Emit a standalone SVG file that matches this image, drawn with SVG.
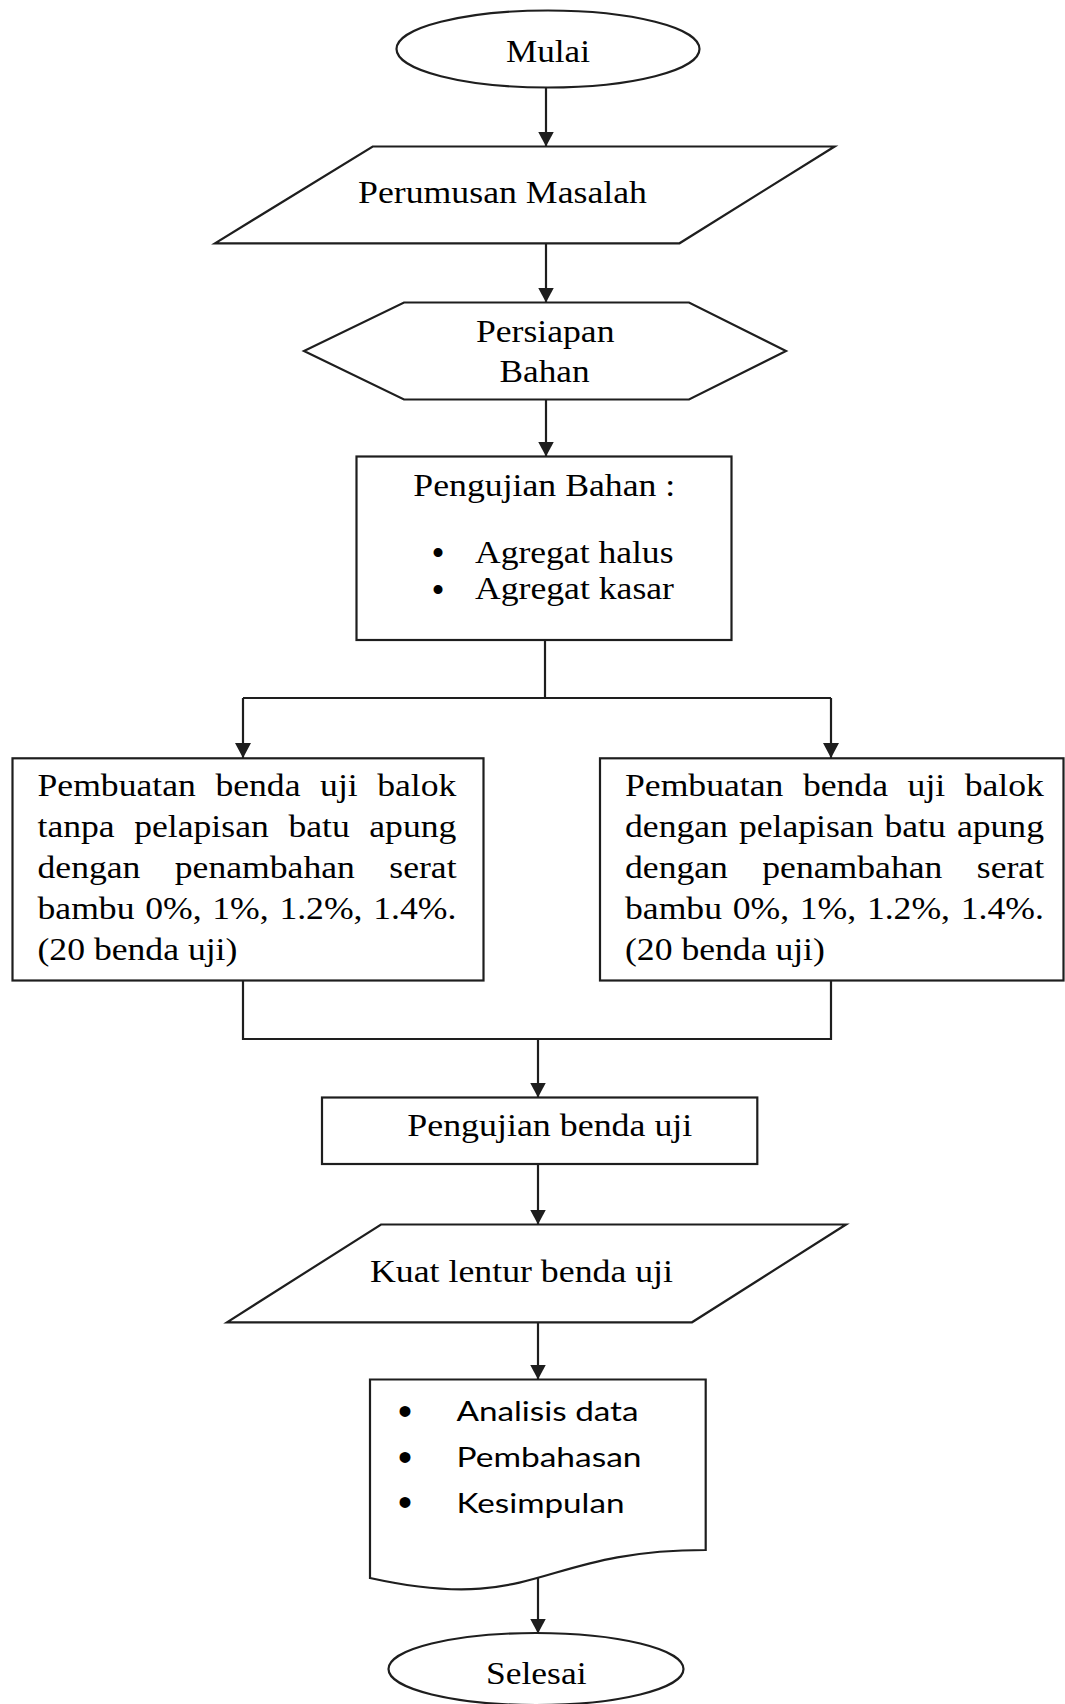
<svg xmlns="http://www.w3.org/2000/svg" width="1065" height="1704" viewBox="0 0 1065 1704">
<style>
.shape{fill:#fff;stroke:#1e1e1e;stroke-width:2.2}
.conn{fill:none;stroke:#1e1e1e;stroke-width:2.2}
.t{font-family:"Liberation Serif","Times New Roman",serif;font-size:31px;fill:#000}
.s{font-family:Lato,"Liberation Sans",sans-serif;font-size:26px;fill:#000}
.bs{font-family:"Liberation Sans",sans-serif;font-size:40px;fill:#000;text-anchor:middle}
.bb{font-family:"Liberation Sans",sans-serif;font-size:33px;fill:#000;text-anchor:middle}
</style>
<defs>
<marker id="arr" markerUnits="userSpaceOnUse" markerWidth="15" markerHeight="16" refX="15" refY="8" orient="auto">
<path d="M0,0 L15,8 L0,16 Z" fill="#1e1e1e"/>
</marker>
</defs>
<rect width="1065" height="1704" fill="#fff"/>

<g id="connectors">
<line class="conn" x1="546" y1="88" x2="546" y2="146.5" marker-end="url(#arr)"/>
<line class="conn" x1="546" y1="243.5" x2="546" y2="302.5" marker-end="url(#arr)"/>
<line class="conn" x1="546" y1="399.5" x2="546" y2="456.5" marker-end="url(#arr)"/>
<polyline class="conn" points="545,640 545,698"/>
<line class="conn" x1="243" y1="698" x2="831" y2="698"/>
<line class="conn" x1="243" y1="698" x2="243" y2="758" marker-end="url(#arr)"/>
<line class="conn" x1="831" y1="698" x2="831" y2="758" marker-end="url(#arr)"/>
<polyline class="conn" points="243,980.5 243,1039 831,1039 831,980.5"/>
<line class="conn" x1="538" y1="1039" x2="538" y2="1097.5" marker-end="url(#arr)"/>
<line class="conn" x1="538" y1="1164" x2="538" y2="1224.5" marker-end="url(#arr)"/>
<line class="conn" x1="538" y1="1322.5" x2="538" y2="1379.5" marker-end="url(#arr)"/>
<line class="conn" x1="538" y1="1577" x2="538" y2="1633.5" marker-end="url(#arr)"/>
</g>

<g id="mulai">
<ellipse class="shape" cx="548" cy="49" rx="151.5" ry="38.5"/>
<text class="t" x="506" y="61.5" textLength="84" lengthAdjust="spacingAndGlyphs">Mulai</text>
</g>

<g id="perumusan">
<polygon class="shape" points="372.7,146.5 834.6,146.5 679.5,243.3 215,243.3"/>
<text class="t" x="358" y="203" textLength="289" lengthAdjust="spacingAndGlyphs">Perumusan Masalah</text>
</g>

<g id="persiapan">
<polygon class="shape" points="404,302.5 689,302.5 786,351 689,399.5 404,399.5 304,351"/>
<text class="t" x="476" y="341.5" textLength="138.5" lengthAdjust="spacingAndGlyphs">Persiapan</text>
<text class="t" x="499.5" y="381.5" textLength="90" lengthAdjust="spacingAndGlyphs">Bahan</text>
</g>

<g id="pengujian-bahan">
<rect class="shape" x="356.5" y="456.5" width="375" height="183.5"/>
<text class="t" x="413.3" y="496" textLength="262" lengthAdjust="spacingAndGlyphs">Pengujian Bahan :</text>
<text class="bb" x="438" y="564">•</text>
<text class="t" x="475" y="562.5" textLength="198.5" lengthAdjust="spacingAndGlyphs">Agregat halus</text>
<text class="bb" x="438" y="601.3">•</text>
<text class="t" x="475" y="599" textLength="199" lengthAdjust="spacingAndGlyphs">Agregat kasar</text>
</g>

<g id="benda-tanpa">
<rect class="shape" x="12.5" y="758.3" width="471" height="222.2"/>
<g transform="scale(1.15 1)">
<text class="t" y="796"><tspan x="32.61">Pembuatan</tspan><tspan x="187.30">benda</tspan><tspan x="278.35">uji</tspan><tspan x="328.00">balok</tspan></text>
<text class="t" y="837"><tspan x="32.61">tanpa</tspan><tspan x="116.70">pelapisan</tspan><tspan x="250.78">batu</tspan><tspan x="321.13">apung</tspan></text>
<text class="t" y="878"><tspan x="32.61">dengan</tspan><tspan x="152.00">penambahan</tspan><tspan x="338.52">serat</tspan></text>
<text class="t" y="919"><tspan x="32.61">bambu</tspan><tspan x="126.26">0%,</tspan><tspan x="184.61">1%,</tspan><tspan x="242.96">1.2%,</tspan><tspan x="324.61">1.4%.</tspan></text>
<text class="t" x="32.61" y="960">(20 benda uji)</text>
</g>
</g>

<g id="benda-dengan">
<rect class="shape" x="600" y="758.3" width="463.5" height="222.2"/>
<g transform="scale(1.15 1)">
<text class="t" y="796"><tspan x="543.48">Pembuatan</tspan><tspan x="698.17">benda</tspan><tspan x="789.22">uji</tspan><tspan x="838.87">balok</tspan></text>
<text class="t" y="837"><tspan x="543.48">dengan</tspan><tspan x="642.52">pelapisan</tspan><tspan x="769.13">batu</tspan><tspan x="832.09">apung</tspan></text>
<text class="t" y="878"><tspan x="543.48">dengan</tspan><tspan x="662.87">penambahan</tspan><tspan x="849.39">serat</tspan></text>
<text class="t" y="919"><tspan x="543.48">bambu</tspan><tspan x="637.13">0%,</tspan><tspan x="695.48">1%,</tspan><tspan x="753.83">1.2%,</tspan><tspan x="835.48">1.4%.</tspan></text>
<text class="t" x="543.48" y="960">(20 benda uji)</text>
</g>
</g>

<g id="pengujian-benda">
<rect class="shape" x="322" y="1097.5" width="435.3" height="66.5"/>
<text class="t" x="407.3" y="1136" textLength="285" lengthAdjust="spacingAndGlyphs">Pengujian benda uji</text>
</g>

<g id="kuat-lentur">
<polygon class="shape" points="381,1224.5 846,1224.5 692,1322.3 227,1322.3"/>
<text class="t" x="370" y="1282" textLength="303" lengthAdjust="spacingAndGlyphs">Kuat lentur benda uji</text>
</g>

<g id="analisis">
<path class="shape" d="M370,1379.5 H705.7 V1550 C537.85,1550 537.85,1615 370,1578 Z"/>
<text class="bs" x="405" y="1425">•</text>
<text class="s" x="456.5" y="1421" textLength="182" lengthAdjust="spacingAndGlyphs">Analisis data</text>
<text class="bs" x="405" y="1470.5">•</text>
<text class="s" x="456.5" y="1466.7" textLength="185" lengthAdjust="spacingAndGlyphs">Pembahasan</text>
<text class="bs" x="405" y="1516">•</text>
<text class="s" x="456.5" y="1512.5" textLength="168" lengthAdjust="spacingAndGlyphs">Kesimpulan</text>
</g>

<g id="selesai">
<ellipse class="shape" cx="536" cy="1669" rx="147.5" ry="36"/>
<text class="t" x="486" y="1683.5" textLength="100.5" lengthAdjust="spacingAndGlyphs">Selesai</text>
</g>
</svg>
